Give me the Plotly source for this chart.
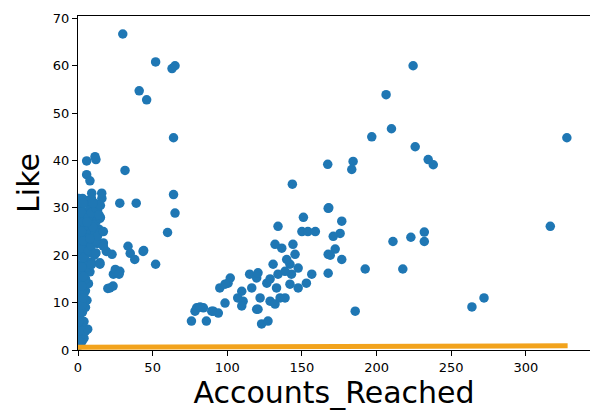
import plotly.graph_objects as go

# Observed posts: accounts reached vs. likes
reached = [
    # dense column near zero reach
    1, 2, 3, 4, 1.5, 5, 6.5, 2, 4, 1, 3, 5, 2, 6, 4, 1, 5, 3, 7, 2, 5, 4, 8, 1, 6, 3, 9, 5, 2, 7,
    11, 4, 8, 1, 6, 10, 3, 13, 5, 8, 2, 11, 6, 14, 4, 9, 1, 12, 7, 3, 10, 15, 5, 13, 2, 8, 11, 6,
    3, 9, 16, 1, 14.7, 19, 17, 11.4, 14.7, 15.9, 9.2,
    0.5, 0.5, 0.5, 0.5, 0.5, 0.5, 0.5, 0.5, 0.5, 0.5, 0.5, 0.5, 0.5, 0.5, 0.5, 0.5,
    2.5, 3.5, 2.5, 3.5, 2.5, 3.5, 2.5, 3.5, 2.5, 3.5, 2.5, 3.5,
    7, 9, 12, 10, 13, 7, 9, 12, 15, 10, 6, 8, 14, 17, 12, 9,
    5.8, 11.4, 12, 5.8, 8,
    21.4, 23.7, 28, 14.7, 25, 27.5, 20, 23.5, 22.8, 17,
    # scattered low-reach posts
    30, 52, 63, 65, 41, 46, 64, 31.5, 64, 65, 60, 28, 39, 33.5, 35, 44, 38, 52, 43.6,
    # middle cluster
    76, 79.5, 84, 86, 90.6, 94, 98.5, 95, 102, 100.5, 109.7, 110.6, 109.7, 115, 119.7, 116.4,
    119.7, 123, 127.3, 122, 126.5, 130.7, 134, 133, 128.7, 132, 135.4, 138.7, 132, 136.5, 134,
    144, 145.4, 142, 147.5, 143, 142, 147.5, 153, 156.6, 143.6, 151, 150, 154, 159, 167.6,
    176.7, 175.6, 171, 172.3, 167.6, 176.7, 167.6, 192.4, 185.7, 167.3, 184.3, 183.4, 196.8,
    210, 211, 78.4, 81.8, 89.6, 107, 120.6, 139.8, 138.7, 128.7, 120.6, 98.5, 168, 169,
    # high-reach posts
    224.5, 206.4, 225.9, 234.6, 238, 327.5, 316.4, 223, 232, 232, 217.6, 263.9, 272,
]
likes = [
    1, 1.5, 2, 2.5, 3, 4, 4.4, 5, 6, 7, 8, 9, 10, 10.5, 11, 12, 12.5, 13, 14, 14.5, 15, 16, 16.5,
    17, 17.5, 18, 18.5, 19, 20, 20.5,
    20, 21, 21.5, 22, 22.5, 23, 23.5, 22.5, 24, 24.5, 25, 25, 25.5, 25.5, 26, 26.5, 27, 27, 27.5,
    28, 28.5, 28, 29, 29.5, 30, 30, 31, 31.5,
    32, 32, 32, 31, 18.4, 20.8, 22.6, 25, 27.8, 33.1, 33.1,
    2, 4, 6, 8, 10, 12, 14, 16, 18, 20, 22, 24, 26, 28, 30, 32,
    9.5, 11, 13.5, 15.5, 17.5, 19.5, 21.5, 23, 25, 27, 29, 31,
    21, 22, 23, 26, 24, 28, 29, 30, 30.5, 31, 27, 23.5, 28.5, 25, 20.5, 18,
    39.9, 40.8, 40.2, 37, 35.7,
    13.1, 16, 16.6, 18.1, 17, 16, 13, 13.5, 20.2, 21.9,
    66.7, 60.8, 59.4, 60, 54.7, 52.8, 44.8, 37.9, 32.8, 28.9, 24.8, 31, 31, 21.9, 20.4, 21, 19.1,
    18.1, 20.8,
    6.1, 8.9, 8.9, 6.1, 8.2, 7.8, 9.9, 13.1, 15.2, 14.1, 12.4, 10.3, 9.3, 16, 15.2, 13.1,
    8.6, 5.5, 6.1, 11, 14.1, 18.1, 16, 13.1, 10.3, 9.7, 11, 11, 22.3, 21.5, 26.1,
    22.3, 20.2, 18.1, 17.3, 16, 13.9, 13.1, 14.1, 16, 35, 28, 25, 25, 25, 29.9,
    27.2, 24.6, 24, 21.3, 20.2, 19.1, 16.2, 17.1, 8.2, 39.2, 39.8, 38.1, 45,
    46.7, 22.9, 8.2, 9.1, 8.2, 11, 16.3, 19.1, 16.6, 15, 8.6, 13.9, 30, 20,
    60, 53.9, 42.9, 40.2, 39.1, 44.8, 26.1, 23.8, 24.9, 22.9, 17.1, 9.1, 11,
]

# Fitted values drawn along the bottom
fit_reached = [0, 100, 200, 328]
fit_likes = [0.6, 0.7, 0.8, 0.9]

fig = go.Figure()
fig.add_trace(go.Scatter(
    x=reached, y=likes, mode="markers",
    marker=dict(color="#1f77b4", size=9.5, line=dict(width=0)),
    showlegend=False,
))
fig.add_trace(go.Scatter(
    x=fit_reached, y=fit_likes, mode="lines",
    line=dict(color="#f2a31c", width=5),
    showlegend=False,
))

axis_font = dict(family="DejaVu Sans", size=13, color="black")
fig.update_layout(
    width=590, height=412,
    margin=dict(l=78, r=0, t=16, b=62),
    paper_bgcolor="white", plot_bgcolor="white",
    font=dict(family="DejaVu Sans", color="black"),
    xaxis=dict(
        range=[0, 343], tickvals=[0, 50, 100, 150, 200, 250, 300],
        showgrid=False, zeroline=False, showline=True, linecolor="black", linewidth=1.2,
        mirror=True, ticks="outside", ticklen=5, tickcolor="black", tickfont=axis_font,
        title=dict(text="Accounts_Reached", font=dict(family="DejaVu Sans", size=30), standoff=6),
    ),
    yaxis=dict(
        range=[0, 70.5], tickvals=[0, 10, 20, 30, 40, 50, 60, 70],
        showgrid=False, zeroline=False, showline=True, linecolor="black", linewidth=1.2,
        ticks="outside", ticklen=5, tickcolor="black", tickfont=axis_font,
        title=dict(text="Like", font=dict(family="DejaVu Sans", size=30), standoff=4),
    ),
)

fig.write_html("out.html")
